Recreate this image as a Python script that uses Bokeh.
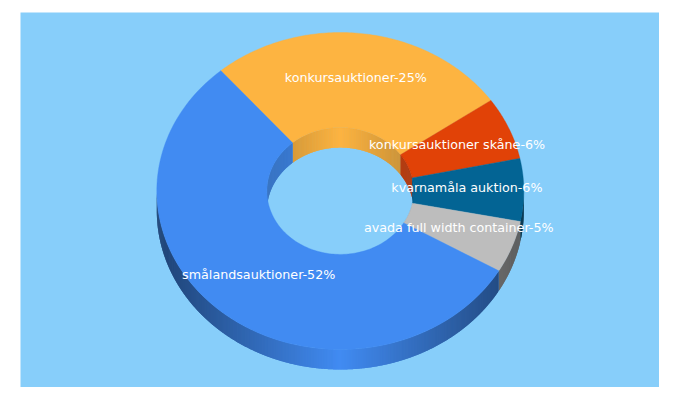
import numpy as np
from bokeh.plotting import figure
from bokeh.models import Range1d
from bokeh.core.properties import value
from bokeh.embed import file_html
from bokeh.resources import INLINE

categories = ["konkursauktioner", "konkursauktioner skåne", "kvarnamåla auktion",
              "avada full width container", "smålandsauktioner"]
shares = [25, 6, 6, 5, 52]
colors = ["#fdb441", "#e14207", "#036494", "#bdbdbd", "#418bf2"]
label_nudge = [(-0.5, -5), (0.5, -3), (0, -3), (0, -2), (-0.5, 0)]

CX, CY, RX, RY, HOLE, DEPTH = 339.8, 190.5, 183.5, 158.5, 0.4, 20.0
START = 229.4
BG = "#87cefa"

def mix(c, f):
    r, g, b = int(c[1:3], 16), int(c[3:5], 16), int(c[5:7], 16)
    return "#%02x%02x%02x" % (round(r * f), round(g * f), round(b * f))

L, T, R, B = 20, 12, 659, 387
p = figure(width=R, height=B, output_backend="svg", toolbar_location=None,
           x_range=Range1d(L, R), y_range=Range1d(B, T),
           min_border_left=L, min_border_right=0, min_border_top=T, min_border_bottom=0)
p.axis.visible = False
p.grid.visible = False
p.outline_line_color = None
p.background_fill_color = BG
p.border_fill_color = "white"

total = sum(shares)
edges = np.concatenate([[START], START + np.cumsum(np.array(shares) / total * 360.0)])


def shade_outer(x):
    return 1.0 - 0.52 * min(1.0, abs(x - CX) / RX)


def shade_inner(x):
    return 1.0 - 0.22 * min(1.0, abs(x - CX) / (RX * HOLE))


# walls: thin strips, each running on under the next so no seams show
wx, wy, wc = [], [], []
for k in range(len(shares)):
    a0, a1 = edges[k], edges[k + 1]
    n = max(2, int((a1 - a0) * 2))
    ts = np.radians(np.linspace(a0, a1, n + 1))
    for i in range(n):
        t0, t1 = ts[i], ts[min(i + 2, n)]
        tm = (ts[i] + ts[i + 1]) / 2
        if np.sin(tm) > 0:
            rx, ry, shade = RX, RY, shade_outer
        else:
            rx, ry, shade = HOLE * RX, HOLE * RY, shade_inner
        sub = np.linspace(t0, t1, 4)
        xs = CX + rx * np.cos(sub)
        ys = CY + ry * np.sin(sub)
        wx.append(list(xs) + list(xs[::-1]))
        wy.append(list(ys) + list(ys[::-1] + DEPTH))
        wc.append(mix(colors[k], shade(CX + rx * np.cos(tm))))
p.patches(wx, wy, fill_color=wc, line_color=None)

# top faces
tx, ty = [], []
for k in range(len(shares)):
    ts = np.radians(np.linspace(edges[k], edges[k + 1], 120))
    tx.append(list(CX + RX * np.cos(ts)) + list(CX + HOLE * RX * np.cos(ts[::-1])))
    ty.append(list(CY + RY * np.sin(ts)) + list(CY + HOLE * RY * np.sin(ts[::-1])))
p.patches(tx, ty, fill_color=colors, line_color=colors, line_width=0.4)

# labels
mids = np.radians((edges[:-1] + edges[1:]) / 2)
lx = CX + 0.69 * RX * np.cos(mids) + np.array([n[0] for n in label_nudge])
ly = CY + 0.69 * RY * np.sin(mids) + np.array([n[1] for n in label_nudge])
texts = [f"{c}-{s}%" for c, s in zip(categories, shares)]
p.text(lx, ly, text=texts, text_color="white", text_align="center", text_baseline="middle",
       text_font=value("DejaVu Sans"), text_font_size="12.7px")

open("out.html", "w").write(file_html(p, INLINE))
